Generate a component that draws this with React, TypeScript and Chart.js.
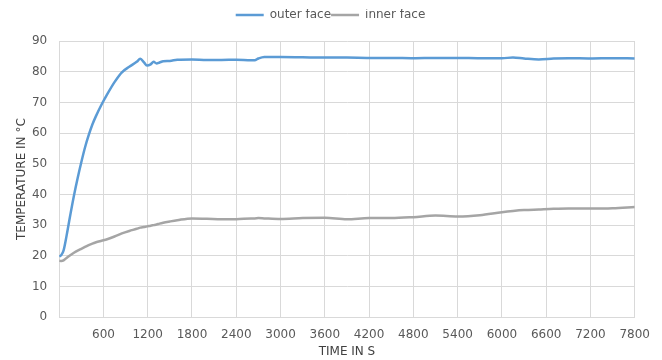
import React, { useEffect, useRef } from "react";
import { Chart, registerables } from "chart.js";

Chart.register(...registerables);

const times = [0, 30, 60, 100, 150, 200, 250, 300, 350, 400, 450, 500, 575, 650, 750, 850, 950, 1050, 1100, 1150, 1190, 1240, 1280, 1320, 1360, 1410, 1500, 1600, 1800, 2000, 2200, 2400, 2600, 2650, 2700, 2780, 3000, 3300, 3600, 3900, 4200, 4500, 4800, 5100, 5400, 5700, 6000, 6150, 6300, 6500, 6700, 6900, 7200, 7500, 7800];

const outerFace = [19.8, 20.3, 21.8, 26.5, 33.2, 39.6, 45.3, 50.5, 55.3, 59.3, 62.8, 65.6, 69.3, 72.6, 76.6, 79.8, 81.6, 83.2, 84.2, 83, 82, 82.4, 83.2, 82.7, 83, 83.4, 83.5, 83.9, 84, 83.8, 83.8, 83.9, 83.7, 83.7, 84.3, 84.8, 84.8, 84.7, 84.6, 84.6, 84.5, 84.5, 84.4, 84.5, 84.5, 84.4, 84.4, 84.6, 84.3, 84.0, 84.3, 84.4, 84.3, 84.4, 84.3];

const innerFace = [18.4, 18.3, 18.5, 19.3, 20.2, 21.0, 21.7, 22.3, 22.9, 23.5, 24.0, 24.4, 24.9, 25.4, 26.3, 27.3, 28.1, 28.8, 29.2, 29.4, 29.6, 29.8, 30.0, 30.2, 30.5, 30.8, 31.2, 31.6, 32.2, 32.1, 31.9, 31.9, 32.2, 32.2, 32.3, 32.2, 32.0, 32.3, 32.4, 31.9, 32.3, 32.3, 32.6, 33.1, 32.8, 33.2, 34.2, 34.6, 34.9, 35.1, 35.3, 35.4, 35.4, 35.5, 35.9];

const seriesLabels = ["outer face", "inner face"];

const legendMargin = {
  id: "legendMargin",
  beforeInit(chart: any) {
    const legend = chart.legend;
    if (!legend) return;
    const fit = legend.fit;
    legend.fit = function () {
      fit.call(this);
      this.height += 10;
    };
    const draw = legend.draw;
    legend.draw = function () {
      const ctx = chart.ctx;
      ctx.save();
      ctx.translate(-7, 0);
      draw.call(this);
      ctx.restore();
    };
  },
};

export default function App() {
  const ref = useRef<HTMLCanvasElement>(null);
  useEffect(() => {
    if (!ref.current) return;
    const font = { family: "'DejaVu Sans', Verdana, sans-serif", size: 12 };
    const chart = new Chart(ref.current, {
      type: "line",
      plugins: [legendMargin],
      data: {
        datasets: [
          {
            label: seriesLabels[0],
            data: times.map((t, i) => ({ x: t, y: outerFace[i] })),
            borderColor: "#5B9BD5",
            backgroundColor: "#5B9BD5",
            borderWidth: 2.5,
            pointRadius: 0,
            cubicInterpolationMode: "monotone",
          },
          {
            label: seriesLabels[1],
            data: times.map((t, i) => ({ x: t, y: innerFace[i] })),
            borderColor: "#A5A5A5",
            backgroundColor: "#A5A5A5",
            borderWidth: 2.5,
            pointRadius: 0,
            cubicInterpolationMode: "monotone",
          },
        ],
      },
      options: {
        animation: false,
        responsive: false,
        maintainAspectRatio: false,
        layout: { padding: { left: 7, right: 0, top: 1, bottom: 1 } },
        plugins: {
          legend: {
            position: "top",
            labels: {
              color: "#595959",
              font,
              usePointStyle: true,
              pointStyle: "line",
              pointStyleWidth: 28,
              padding: 0,
            },
          },
          tooltip: { enabled: false },
        },
        scales: {
          x: {
            type: "linear",
            min: 0,
            max: 7800,
            border: { color: "#D9D9D9" },
            grid: { color: "#D9D9D9", drawTicks: false, tickLength: 0 },
            ticks: {
              stepSize: 600,
              color: "#595959",
              font,
              padding: 10,
              maxRotation: 0,
              callback: (v: any) => (v === 0 ? "" : String(v)),
            },
            title: { display: true, text: "TIME IN S", color: "#404040", font, padding: { top: -7, bottom: 0 } },
          },
          y: {
            min: 0,
            max: 90,
            border: { color: "#D9D9D9" },
            grid: { color: "#D9D9D9", drawTicks: false, tickLength: 0 },
            ticks: { stepSize: 10, color: "#595959", font, padding: 12 },
            title: { display: true, text: "TEMPERATURE IN °C", color: "#404040", font, padding: { top: 0, bottom: -9.5 } },
          },
        },
      },
    });
    return () => chart.destroy();
  }, []);
  return (
    <div style={{ width: 646, height: 352, overflow: "hidden" }}>
      <canvas ref={ref} width={652} height={352} style={{ display: "block" }} />
    </div>
  );
}
